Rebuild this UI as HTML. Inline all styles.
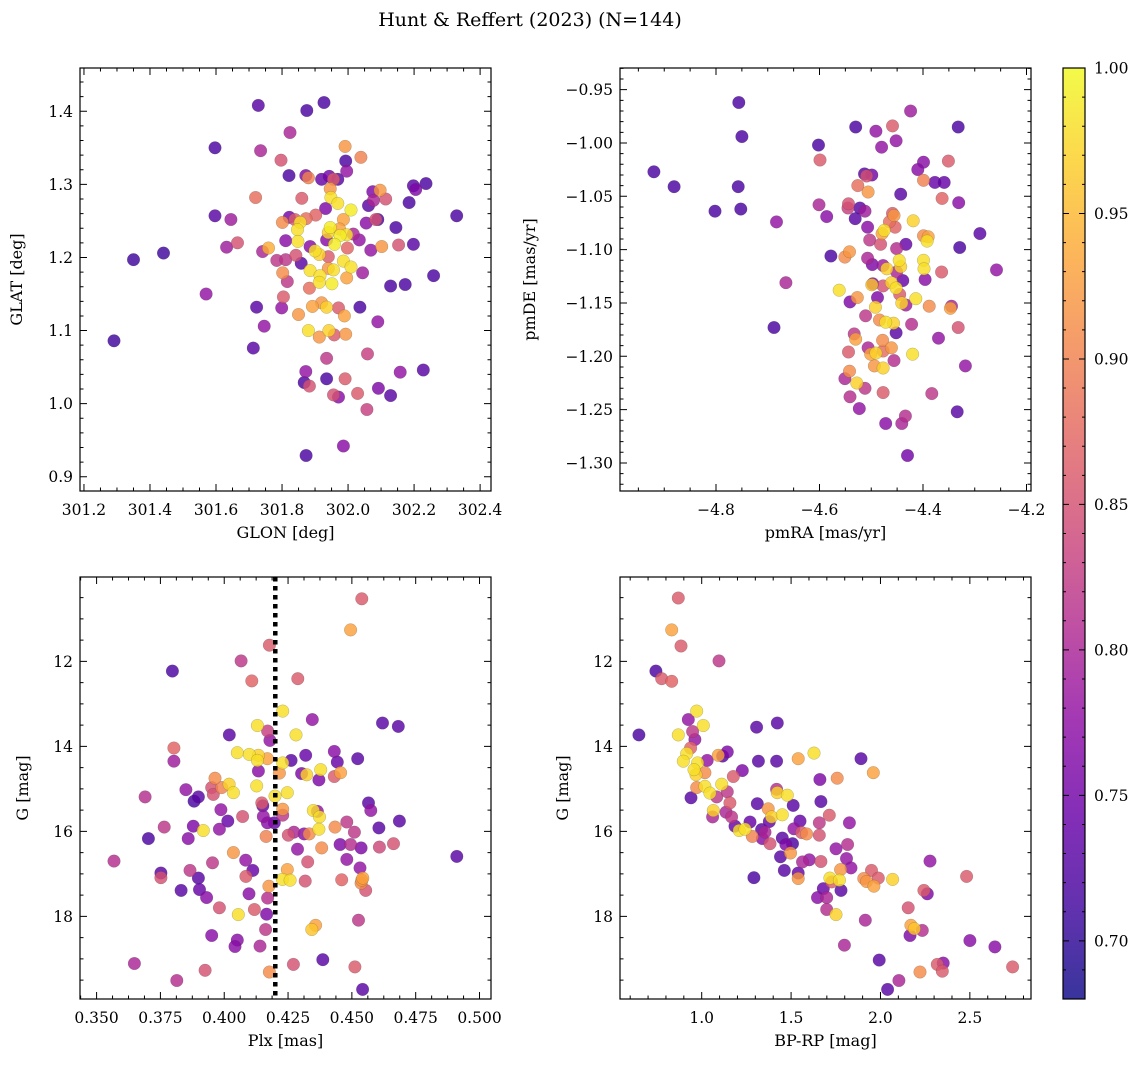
<!DOCTYPE html>
<html><head><meta charset="utf-8"><style>
html,body{margin:0;padding:0;background:#fff;}
svg{display:block;font-family:"DejaVu Serif","Liberation Serif",serif;}
</style></head><body>
<svg id="fig" width="1148" height="1067" viewBox="0 0 1148 1067" xmlns="http://www.w3.org/2000/svg">
<text x="530" y="26" text-anchor="middle" font-size="19">Hunt &amp; Reffert (2023) (N=144)</text>
</svg>
<script>
// ---- Panel 1: GLON / GLAT ----
const p1_glon=[301.728,301.875,301.927,301.824,301.597,301.735,301.797,301.991,302.039,301.993,301.996,301.821,301.872,301.880,301.920,301.943,301.956,301.969,301.946,302.198,302.205,302.236,301.720,301.860,301.948,301.969,301.932,302.075,302.097,302.077,302.062,302.114,302.185,301.597,301.645,301.822,301.839,301.801,301.855,301.873,301.902,302.009,301.986,302.084,302.090,302.055,302.145,302.329,301.847,301.946,301.940,301.974,301.976,301.996,301.811,301.848,301.935,301.959,302.016,302.034,301.632,301.665,301.759,301.741,301.885,301.900,301.913,301.940,301.998,302.069,302.102,302.153,302.198,301.350,301.441,301.784,301.811,301.842,301.858,301.885,301.940,301.956,301.986,302.009,301.802,301.915,301.816,301.913,301.951,301.996,302.044,301.883,302.259,302.129,302.173,301.570,301.804,301.723,301.799,301.892,301.920,301.935,301.971,301.989,301.850,302.036,302.090,301.746,301.880,301.913,301.942,301.958,301.993,301.291,301.713,301.935,302.059,301.872,301.867,301.883,301.935,301.991,302.158,302.228,301.956,301.971,302.029,302.092,302.129,302.057,301.986,301.873];
const p1_glat=[1.408,1.401,1.412,1.371,1.350,1.346,1.333,1.352,1.337,1.332,1.318,1.312,1.312,1.309,1.307,1.311,1.307,1.307,1.294,1.298,1.293,1.301,1.282,1.281,1.282,1.274,1.267,1.290,1.292,1.278,1.271,1.280,1.275,1.257,1.252,1.255,1.252,1.248,1.248,1.253,1.258,1.265,1.252,1.252,1.252,1.247,1.241,1.257,1.238,1.241,1.234,1.239,1.230,1.231,1.223,1.222,1.224,1.218,1.232,1.224,1.214,1.220,1.213,1.208,1.215,1.209,1.204,1.201,1.213,1.210,1.215,1.217,1.218,1.197,1.206,1.196,1.197,1.203,1.192,1.182,1.185,1.183,1.195,1.187,1.179,1.175,1.167,1.166,1.164,1.172,1.179,1.158,1.175,1.161,1.163,1.150,1.146,1.132,1.131,1.133,1.138,1.132,1.131,1.120,1.122,1.132,1.112,1.106,1.100,1.091,1.100,1.094,1.095,1.086,1.076,1.062,1.068,1.044,1.029,1.024,1.034,1.034,1.043,1.046,1.012,1.009,1.014,1.021,1.011,0.992,0.942,0.929];
const p1_prob=[0.73,0.72,0.72,0.80,0.72,0.80,0.85,0.92,0.90,0.72,0.78,0.72,0.76,0.90,0.74,0.75,0.86,0.73,0.92,0.73,0.76,0.72,0.88,0.86,0.98,0.98,0.76,0.76,0.92,0.80,0.73,0.85,0.72,0.73,0.79,0.75,0.86,0.91,0.98,0.88,0.87,0.99,0.93,0.85,0.72,0.77,0.72,0.72,0.98,0.99,0.97,0.93,0.99,0.98,0.77,0.98,0.77,0.99,0.80,0.78,0.79,0.85,0.94,0.80,0.77,0.98,0.97,0.86,0.87,0.78,0.92,0.85,0.73,0.71,0.71,0.82,0.82,0.85,0.73,0.98,0.92,0.98,0.98,0.98,0.91,0.98,0.82,0.98,0.99,0.93,0.79,0.88,0.72,0.72,0.72,0.78,0.86,0.73,0.78,0.93,0.92,0.97,0.86,0.93,0.92,0.72,0.78,0.78,0.98,0.92,0.97,0.86,0.92,0.71,0.73,0.82,0.83,0.78,0.72,0.85,0.72,0.86,0.78,0.73,0.85,0.77,0.86,0.76,0.73,0.83,0.77,0.72];
// ---- Panel 2: pmRA / pmDE ----
const p2_pmra=[-4.756,-4.750,-4.920,-4.881,-4.757,-4.802,-4.752,-4.683,-4.665,-4.688,-4.602,-4.599,-4.530,-4.491,-4.459,-4.452,-4.480,-4.424,-4.332,-4.399,-4.410,-4.351,-4.513,-4.499,-4.509,-4.526,-4.506,-4.399,-4.377,-4.359,-4.443,-4.363,-4.331,-4.601,-4.586,-4.544,-4.545,-4.522,-4.512,-4.531,-4.459,-4.456,-4.465,-4.454,-4.419,-4.507,-4.475,-4.479,-4.503,-4.482,-4.399,-4.390,-4.392,-4.290,-4.329,-4.433,-4.451,-4.578,-4.542,-4.551,-4.507,-4.498,-4.477,-4.470,-4.446,-4.443,-4.451,-4.399,-4.398,-4.396,-4.258,-4.364,-4.497,-4.499,-4.477,-4.461,-4.439,-4.452,-4.562,-4.541,-4.527,-4.488,-4.445,-4.441,-4.433,-4.414,-4.388,-4.345,-4.347,-4.492,-4.511,-4.484,-4.472,-4.457,-4.452,-4.422,-4.332,-4.370,-4.533,-4.530,-4.506,-4.478,-4.461,-4.544,-4.501,-4.491,-4.477,-4.456,-4.420,-4.494,-4.477,-4.318,-4.542,-4.551,-4.528,-4.512,-4.477,-4.383,-4.541,-4.523,-4.334,-4.434,-4.472,-4.441,-4.430];
const p2_pmde=[-0.962,-0.994,-1.027,-1.041,-1.041,-1.064,-1.062,-1.074,-1.131,-1.173,-1.002,-1.016,-0.985,-0.989,-0.984,-0.998,-1.004,-0.970,-0.985,-1.018,-1.025,-1.017,-1.029,-1.030,-1.031,-1.040,-1.046,-1.035,-1.037,-1.037,-1.048,-1.052,-1.056,-1.058,-1.069,-1.057,-1.061,-1.061,-1.064,-1.071,-1.066,-1.068,-1.074,-1.079,-1.073,-1.079,-1.082,-1.085,-1.091,-1.095,-1.087,-1.088,-1.092,-1.085,-1.098,-1.095,-1.099,-1.106,-1.102,-1.107,-1.108,-1.114,-1.115,-1.118,-1.110,-1.116,-1.121,-1.110,-1.118,-1.128,-1.119,-1.121,-1.132,-1.133,-1.134,-1.131,-1.129,-1.136,-1.138,-1.149,-1.145,-1.145,-1.142,-1.150,-1.152,-1.146,-1.153,-1.153,-1.155,-1.154,-1.162,-1.166,-1.168,-1.169,-1.178,-1.170,-1.173,-1.183,-1.179,-1.184,-1.192,-1.185,-1.192,-1.196,-1.198,-1.197,-1.195,-1.204,-1.198,-1.209,-1.211,-1.209,-1.214,-1.221,-1.225,-1.230,-1.234,-1.235,-1.238,-1.249,-1.252,-1.256,-1.263,-1.263,-1.293];
const p2_prob=[0.72,0.72,0.72,0.72,0.72,0.72,0.72,0.78,0.80,0.72,0.72,0.86,0.72,0.78,0.86,0.78,0.78,0.79,0.72,0.77,0.77,0.86,0.73,0.75,0.85,0.88,0.92,0.90,0.74,0.74,0.73,0.87,0.77,0.80,0.77,0.85,0.83,0.73,0.79,0.73,0.86,0.92,0.88,0.87,0.97,0.77,0.98,0.93,0.82,0.85,0.91,0.93,0.98,0.73,0.72,0.74,0.81,0.72,0.92,0.91,0.80,0.76,0.79,0.97,0.98,0.97,0.80,0.98,0.98,0.77,0.78,0.86,0.76,0.96,0.85,0.97,0.74,0.98,0.98,0.76,0.92,0.76,0.86,0.97,0.79,0.98,0.91,0.80,0.93,0.97,0.82,0.91,0.98,0.97,0.73,0.81,0.85,0.78,0.82,0.93,0.80,0.91,0.92,0.86,0.93,0.97,0.88,0.81,0.98,0.92,0.97,0.78,0.91,0.80,0.97,0.82,0.86,0.82,0.81,0.78,0.73,0.81,0.77,0.80,0.75];
// ---- Panel 3: Plx / G ----
const p3_plx=[0.4539,0.4495,0.4177,0.4066,0.3797,0.4108,0.4288,0.4229,0.4345,0.4620,0.4682,0.4130,0.4020,0.4170,0.4179,0.4281,0.3803,0.3803,0.4051,0.4098,0.4134,0.4169,0.4130,0.4229,0.4262,0.4319,0.4431,0.4443,0.4523,0.4134,0.4216,0.4303,0.4323,0.4371,0.4378,0.4431,0.4456,0.3964,0.3951,0.3990,0.4019,0.4036,0.3850,0.3957,0.4127,0.4247,0.4199,0.3690,0.3899,0.3882,0.3987,0.4147,0.4151,0.4229,0.4229,0.4349,0.4365,0.4373,0.4565,0.4574,0.4072,0.4153,0.4014,0.4169,0.4196,0.4686,0.3879,0.3765,0.3981,0.3918,0.4371,0.4434,0.4480,0.4510,0.4606,0.3703,0.3859,0.4164,0.4251,0.4273,0.4313,0.4333,0.4454,0.4495,0.4536,0.4608,0.4663,0.4382,0.4287,0.4911,0.3568,0.4036,0.3954,0.4084,0.4327,0.4480,0.4112,0.3866,0.3752,0.3752,0.3899,0.4085,0.4247,0.4228,0.4258,0.4317,0.4460,0.4539,0.4543,0.4536,0.4532,0.4554,0.3831,0.3903,0.3931,0.4097,0.4175,0.4170,0.3981,0.4118,0.4055,0.4166,0.4526,0.4358,0.4343,0.3951,0.4162,0.4051,0.4042,0.4140,0.3648,0.3814,0.3925,0.4177,0.4271,0.4386,0.4512,0.4542];
const p3_g=[10.53,11.26,11.62,11.99,12.23,12.46,12.41,13.17,13.37,13.45,13.53,13.51,13.73,13.64,13.86,13.73,14.04,14.35,14.15,14.19,14.21,14.29,14.33,14.39,14.33,14.21,14.12,14.37,14.29,14.58,14.63,14.64,14.67,14.79,14.55,14.71,14.62,14.75,14.97,14.97,14.89,15.09,15.02,15.13,14.93,15.09,15.17,15.19,15.19,15.29,15.49,15.33,15.40,15.48,15.62,15.51,15.53,15.66,15.33,15.51,15.65,15.65,15.76,15.80,15.80,15.76,15.88,15.90,15.95,15.98,15.95,15.90,15.78,16.02,15.92,16.17,16.17,16.12,16.09,16.02,16.06,16.06,16.31,16.31,16.39,16.37,16.29,16.39,16.42,16.59,16.70,16.50,16.74,16.68,16.72,16.66,16.92,16.92,16.98,17.09,17.10,17.06,16.90,17.13,17.15,17.17,17.14,17.15,17.10,17.22,16.86,17.39,17.39,17.37,17.56,17.47,17.29,17.57,17.80,17.84,17.96,17.95,18.09,18.21,18.31,18.45,18.31,18.56,18.71,18.70,19.11,19.51,19.27,19.31,19.13,19.02,19.19,19.72];
const p3_prob=[0.86,0.93,0.86,0.82,0.72,0.87,0.86,0.98,0.78,0.73,0.73,0.98,0.73,0.83,0.78,0.98,0.87,0.79,0.98,0.98,0.97,0.93,0.98,0.98,0.73,0.74,0.77,0.74,0.73,0.77,0.92,0.76,0.97,0.76,0.98,0.86,0.93,0.91,0.85,0.90,0.97,0.98,0.78,0.85,0.98,0.98,0.98,0.81,0.73,0.72,0.78,0.86,0.74,0.92,0.82,0.98,0.78,0.98,0.73,0.78,0.85,0.78,0.74,0.77,0.74,0.73,0.76,0.82,0.78,0.98,0.98,0.91,0.82,0.82,0.73,0.72,0.77,0.90,0.85,0.80,0.77,0.91,0.76,0.81,0.76,0.84,0.85,0.91,0.78,0.73,0.81,0.92,0.82,0.78,0.85,0.78,0.74,0.82,0.73,0.85,0.73,0.86,0.93,0.98,0.98,0.85,0.87,0.92,0.93,0.91,0.78,0.85,0.73,0.74,0.77,0.77,0.92,0.81,0.85,0.86,0.98,0.76,0.82,0.93,0.96,0.77,0.82,0.77,0.77,0.80,0.80,0.81,0.85,0.91,0.85,0.73,0.86,0.73];
const p3_cut=[0.42];
// ---- Panel 4: BP-RP / G ----
const p4_bprp=[0.869,0.832,0.884,1.097,0.744,0.776,0.832,0.972,0.925,1.009,0.949,0.962,0.869,0.649,1.307,1.423,0.938,0.916,0.897,0.977,1.031,0.957,0.968,1.018,1.093,1.117,1.143,1.227,1.317,1.419,1.540,1.628,1.891,1.960,1.661,1.758,0.972,1.018,1.046,1.112,1.177,0.940,1.084,1.143,1.158,1.065,1.061,1.136,1.167,1.186,1.210,1.242,1.270,1.283,1.311,1.335,1.354,1.339,1.382,1.378,1.372,1.391,1.419,1.423,1.479,1.451,1.512,1.550,1.451,1.471,1.508,1.497,1.516,1.559,1.587,1.441,1.564,1.602,1.667,1.658,1.658,1.714,1.667,1.826,1.751,1.816,1.810,1.835,1.777,1.717,1.727,1.770,1.779,1.462,1.540,1.540,1.292,1.680,1.648,1.699,1.699,1.751,1.907,1.922,1.963,1.950,1.988,2.068,2.277,2.243,2.262,2.482,2.155,1.915,2.170,2.189,2.165,2.234,1.798,2.500,2.640,1.993,2.103,2.040,2.221,2.318,2.351,2.346,2.739];
const p4_g=[10.51,11.26,11.64,11.99,12.23,12.41,12.47,13.17,13.37,13.51,13.65,13.84,13.73,13.73,13.55,13.45,14.04,14.17,14.35,14.39,14.33,14.55,14.67,14.62,14.21,14.23,14.13,14.57,14.35,14.35,14.29,14.16,14.29,14.62,14.78,14.75,14.97,14.94,15.10,14.89,14.71,15.21,15.19,15.07,15.33,15.51,15.66,15.55,15.66,15.88,15.98,15.95,15.78,16.12,15.35,15.96,16.02,16.17,16.29,15.77,15.47,15.66,15.01,15.09,15.15,15.61,15.39,15.76,16.16,16.31,16.29,16.51,15.94,16.03,16.06,16.60,16.72,16.67,16.71,15.80,16.09,15.62,15.30,15.80,16.41,16.31,16.64,16.86,16.90,17.10,17.19,17.15,17.39,16.92,16.98,17.11,17.09,17.35,17.56,17.56,17.84,17.96,17.11,17.18,17.29,16.92,17.10,17.13,16.70,17.39,17.47,17.06,17.80,18.09,18.21,18.29,18.45,18.33,18.68,18.57,18.72,19.03,19.51,19.72,19.31,19.13,19.10,19.29,19.19];
const p4_prob=[0.86,0.93,0.86,0.82,0.72,0.86,0.87,0.98,0.78,0.98,0.82,0.78,0.98,0.72,0.73,0.73,0.87,0.98,0.98,0.98,0.78,0.98,0.97,0.91,0.93,0.73,0.76,0.76,0.73,0.73,0.93,0.98,0.73,0.93,0.76,0.91,0.91,0.98,0.98,0.98,0.86,0.73,0.82,0.82,0.86,0.97,0.80,0.80,0.82,0.74,0.98,0.98,0.74,0.90,0.73,0.73,0.80,0.77,0.85,0.74,0.92,0.97,0.81,0.97,0.98,0.98,0.73,0.74,0.73,0.76,0.72,0.92,0.78,0.86,0.91,0.73,0.80,0.78,0.85,0.82,0.85,0.86,0.73,0.78,0.78,0.81,0.78,0.78,0.92,0.98,0.86,0.98,0.73,0.73,0.74,0.92,0.72,0.74,0.77,0.80,0.81,0.97,0.91,0.92,0.93,0.86,0.86,0.97,0.78,0.86,0.76,0.86,0.85,0.80,0.93,0.96,0.76,0.81,0.80,0.77,0.77,0.73,0.80,0.73,0.91,0.86,0.77,0.86,0.86];
// ---- Tick labels / colorbar ----
const p1_xticks=[301.2,301.4,301.6,301.8,302.0,302.2,302.4];
const p1_yticks=[0.9,1.0,1.1,1.2,1.3,1.4];
const p2_xticks=[-4.8,-4.6,-4.4,-4.2];
const p2_yticks=[-0.95,-1.00,-1.05,-1.10,-1.15,-1.20,-1.25,-1.30];
const p3_xticks=[0.350,0.375,0.400,0.425,0.450,0.475,0.500];
const g_yticks=[12,14,16,18];
const p4_xticks=[1.0,1.5,2.0,2.5];
const cb_ticks=[0.70,0.75,0.80,0.85,0.90,0.95,1.00];
const VMIN=0.68, VMAX=1.0;

const NS="http://www.w3.org/2000/svg";
const svg=document.getElementById('fig');
function mk(tag,attrs,parent){const e=document.createElementNS(NS,tag);for(const k in attrs)e.setAttribute(k,attrs[k]);(parent||svg).appendChild(e);return e;}
const PL=[[0x0d,0x08,0x87],[0x41,0x04,0x9d],[0x6a,0x00,0xa8],[0x8f,0x0d,0xa4],[0xb1,0x2a,0x90],[0xcc,0x47,0x78],[0xe1,0x64,0x62],[0xf2,0x84,0x4b],[0xfc,0xa6,0x36],[0xfc,0xce,0x25],[0xf0,0xf9,0x21]];
function plasma(t){t=Math.max(0,Math.min(1,t));const f=t*10,i=Math.min(9,Math.floor(f)),u=f-i;const a=PL[i],b=PL[i+1];return 'rgb('+[0,1,2].map(k=>Math.round(a[k]+(b[k]-a[k])*u)).join(',')+')';}
function col(p){return plasma((p-VMIN)/(VMAX-VMIN));}
function fmt(v,d){return (v<0?'\u2212':'')+Math.abs(v).toFixed(d);}

function panel(o){
  const g=mk('g',{});
  
  
  const sx=v=>o.L+(v-o.x0)/(o.x1-o.x0)*(o.R-o.L);
  const sy=v=>o.T+(v-o.y0)/(o.y1-o.y0)*(o.B-o.T);
  const idx=o.xs.map((_,i)=>i).filter(i=>i<o.ys.length&&i<o.ps.length).sort((a,b)=>o.ps[a]-o.ps[b]);
  const pg=mk('g',{},g);
  
  
  idx.forEach(i=>{
    const c=mk('circle',{cx:sx(o.xs[i]).toFixed(1),cy:sy(o.ys[i]).toFixed(1),r:6.3,fill:col(o.ps[i]),'fill-opacity':0.82,stroke:'rgba(60,60,60,0.35)','stroke-width':0.5},pg);
    
    
  });
  if(o.extra)o.extra(g,sx,sy);
  const fr=mk('rect',{x:o.L,y:o.T,width:o.R-o.L,height:o.B-o.T,fill:'none',stroke:'#000','stroke-width':1.2},g);
  
  
  let d='';
  const xm=o.xminor, ym=o.yminor;
  for(let v=Math.ceil(Math.min(o.x0,o.x1)/xm)*xm; v<=Math.max(o.x0,o.x1)+1e-9; v+=xm){
    const x=sx(v); const isMaj=o.xt.some(t=>Math.abs(t-v)<xm/10); const len=isMaj?7:3.5;
    d+=`M${x},${o.B}v${-len}M${x},${o.T}v${len}`;
  }
  for(let v=Math.ceil(Math.min(o.y0,o.y1)/ym)*ym; v<=Math.max(o.y0,o.y1)+1e-9; v+=ym){
    const y=sy(v); const isMaj=o.yt.some(t=>Math.abs(t-v)<ym/10); const len=isMaj?7:3.5;
    d+=`M${o.L},${y}h${len}M${o.R},${y}h${-len}`;
  }
  mk('path',{d:d,stroke:'#000','stroke-width':1,fill:'none'},g);
  o.xt.forEach(v=>{const t=mk('text',{x:sx(v),y:o.B+24,'text-anchor':'middle','font-size':15.5},g);t.textContent=fmt(v,o.xd);
    });
  o.yt.forEach(v=>{const t=mk('text',{x:o.L-7,y:sy(v)+5.5,'text-anchor':'end','font-size':15.5},g);t.textContent=fmt(v,o.yd);
    });
  const xl=mk('text',{x:(o.L+o.R)/2,y:o.B+47,'text-anchor':'middle','font-size':16},g);xl.textContent=o.xlabel;
  
  const yl=mk('text',{x:o.ylx,y:(o.T+o.B)/2,'text-anchor':'middle','font-size':16,transform:`rotate(-90 ${o.ylx} ${(o.T+o.B)/2})`},g);yl.textContent=o.ylabel;
  
}

panel({name:'glon-glat-panel',L:80,R:491,T:68,B:491,x0:301.188,x1:302.433,y0:1.4592,y1:0.8805,xs:p1_glon,ys:p1_glat,ps:p1_prob,
  xt:p1_xticks,yt:p1_yticks,xd:1,yd:1,xminor:0.05,yminor:0.02,xlabel:'GLON [deg]',ylabel:'GLAT [deg]',ylx:22});
panel({name:'pm-panel',L:620,R:1031,T:68,B:491,x0:-4.9855,x1:-4.1913,y0:-0.9297,y1:-1.3263,xs:p2_pmra,ys:p2_pmde,ps:p2_prob,
  xt:p2_xticks,yt:p2_yticks,xd:1,yd:2,xminor:0.05,yminor:0.01,xlabel:'pmRA [mas/yr]',ylabel:'pmDE [mas/yr]',ylx:535});
panel({name:'plx-g-panel',L:80,R:491,T:577,B:999,x0:0.3435,x1:0.5045,y0:10.016,y1:19.945,xs:p3_plx,ys:p3_g,ps:p3_prob,
  xt:p3_xticks,yt:g_yticks,xd:3,yd:0,xminor:0.00625,yminor:0.5,xlabel:'Plx [mas]',ylabel:'G [mag]',ylx:28,
  extra:(g,sx,sy)=>{p3_cut.forEach(v=>{const l=mk('line',{x1:sx(v),x2:sx(v),y1:577,y2:999,stroke:'#000','stroke-width':4.5,'stroke-dasharray':'4.5,4.5'},g);
    });}});
panel({name:'cmd-panel',L:620,R:1031,T:577,B:999,x0:0.543,x1:2.842,y0:10.016,y1:19.945,xs:p4_bprp,ys:p4_g,ps:p4_prob,
  xt:p4_xticks,yt:g_yticks,xd:1,yd:0,xminor:0.1,yminor:0.5,xlabel:'BP-RP [mag]',ylabel:'G [mag]',ylx:568});

(function(){
  const L=1063,R=1085,T=68,B=999;
  const g=mk('g',{});
  
  
  const defs=mk('defs',{},g);
  const lg=mk('linearGradient',{id:'cbg',x1:0,y1:1,x2:0,y2:0},defs);
  for(let k=0;k<=10;k++){mk('stop',{offset:k/10,'stop-color':plasma(k/10),'stop-opacity':0.82},lg);}
  mk('rect',{x:L,y:T,width:R-L,height:B-T,fill:'url(#cbg)',stroke:'#000','stroke-width':1.2},g);
  const sy=v=>B-(v-VMIN)/(VMAX-VMIN)*(B-T);
  let d='';
  for(let v=0.68;v<=1.0001;v+=0.01){const y=sy(v);const maj=cb_ticks.some(t=>Math.abs(t-v)<0.001);const len=maj?6:3;d+=`M${R},${y}h${-len}M${L},${y}h${len}`;}
  mk('path',{d:d,stroke:'#000','stroke-width':1},g);
  cb_ticks.forEach(v=>{const t=mk('text',{x:R+9,y:sy(v)+5.5,'font-size':15.5},g);t.textContent=v.toFixed(2);
    });
})();
</script>
</body></html>
